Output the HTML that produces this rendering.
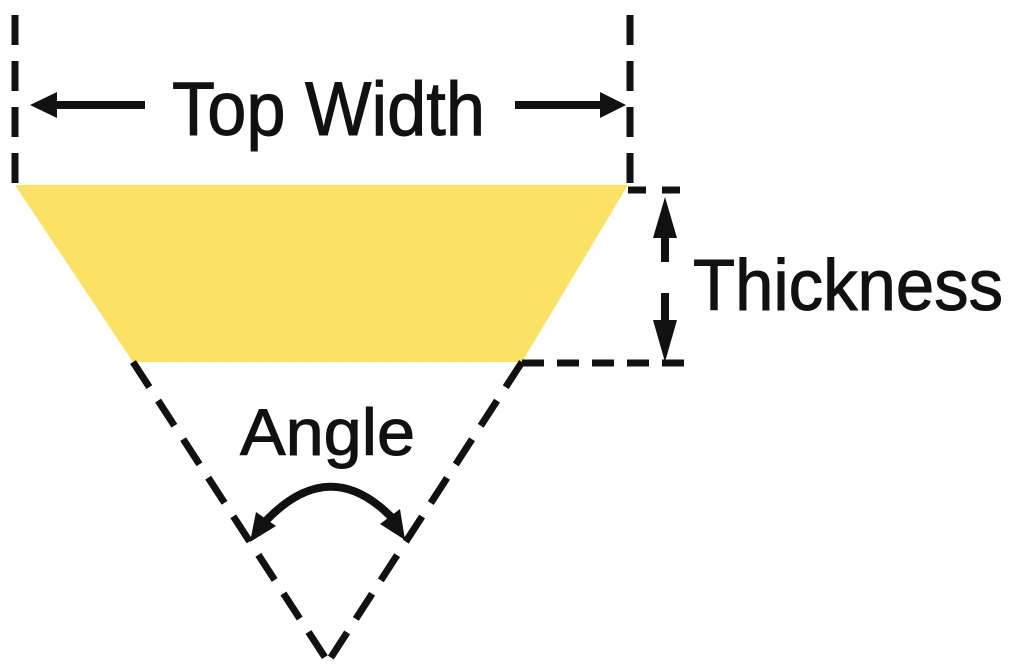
<!DOCTYPE html>
<html><head><meta charset="utf-8"><style>
html,body{margin:0;padding:0;background:#fff;}
svg{display:block;}
text{font-family:"Liberation Sans",sans-serif;fill:#111;}
</style></head><body>
<svg width="1014" height="672" viewBox="0 0 1014 672" xmlns="http://www.w3.org/2000/svg">
<polygon points="15,185 628,185 522,362 133,362" fill="#fbe264"/>
<g stroke="#111" stroke-width="7" fill="none">
<line x1="15" y1="15" x2="15" y2="185" stroke-dasharray="30,16"/>
<line x1="630" y1="15" x2="630" y2="185" stroke-dasharray="30,16"/>
<line x1="628" y1="190" x2="692" y2="190" stroke-dasharray="18,16"/>
<line x1="522" y1="363" x2="692" y2="363" stroke-dasharray="22,13"/>
<line x1="133" y1="362" x2="328" y2="662" stroke-dasharray="30,16"/>
<line x1="522" y1="362" x2="328" y2="662" stroke-dasharray="30,16"/>
<line x1="145" y1="105" x2="55" y2="105" stroke-width="8"/>
<line x1="515" y1="105" x2="600" y2="105" stroke-width="8"/>
<line x1="665" y1="262" x2="665" y2="225" stroke-width="8"/>
<line x1="665" y1="293" x2="665" y2="335" stroke-width="8"/>
<path d="M262,525 Q330,450 396,522" stroke-width="8"/>
</g>
<g fill="#111">
<polygon points="30,105 57,92 57,118"/>
<polygon points="626,105 600,92 600,118"/>
<polygon points="665,197 653,238 677,238"/>
<polygon points="665,362 653,320 677,320"/>
<polygon points="250,542 256,512 276,526"/>
<polygon points="405,540 380,524 400,509"/>
</g>
<text x="172" y="135" font-size="76" textLength="313" lengthAdjust="spacingAndGlyphs" stroke="#111" stroke-width="1">Top Width</text>
<text x="693" y="310" font-size="72" textLength="310" lengthAdjust="spacingAndGlyphs" stroke="#111" stroke-width="1">Thickness</text>
<text x="240" y="455" font-size="66" textLength="175" lengthAdjust="spacingAndGlyphs" stroke="#111" stroke-width="1">Angle</text>
</svg>
</body></html>
